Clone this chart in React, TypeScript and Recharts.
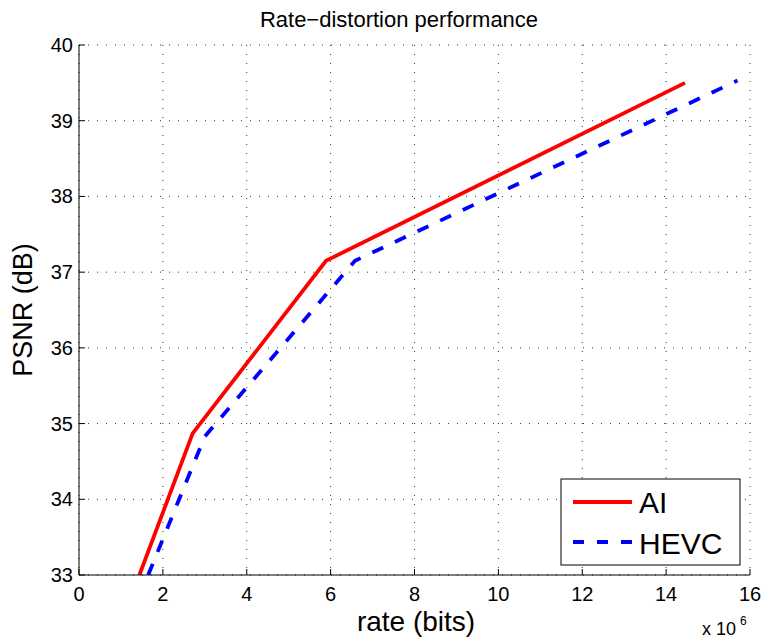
import React from 'react';
import { LineChart, Line, XAxis, YAxis, CartesianGrid } from 'recharts';

// Rate in units of 10^6 bits, PSNR in dB
const aiRate = [1.44, 2.71, 5.89, 14.45];
const aiPsnr = [33.0, 34.87, 37.15, 39.5];
const hevcRate = [1.65, 3.0, 6.58, 15.7];
const hevcPsnr = [33.0, 34.83, 37.15, 39.53];

const xTicks = [0, 2, 4, 6, 8, 10, 12, 14, 16];
const yTicks = [33, 34, 35, 36, 37, 38, 39, 40];

const aiData = aiRate.map((rate, i) => ({ rate, psnr: aiPsnr[i] }));
const hevcData = hevcRate.map((rate, i) => ({ rate, psnr: hevcPsnr[i] }));

const FONT = '"Liberation Sans", Arial, Helvetica, sans-serif';
const W = 766;
const H = 641;

const XTick = (props: any) => {
  const { x, y, payload } = props;
  return (
    <g>
      <line x1={x} y1={y} x2={x} y2={y - 6} stroke="#000" strokeWidth={1} />
      <text x={x} y={y + 26} textAnchor="middle" fontSize={20} fontFamily={FONT} fill="#000">
        {payload.value}
      </text>
    </g>
  );
};

const YTick = (props: any) => {
  const { x, y, payload } = props;
  return (
    <g>
      <line x1={x} y1={y} x2={x + 6} y2={y} stroke="#000" strokeWidth={1} />
      <text x={x - 6} y={y + 7} textAnchor="end" fontSize={20} fontFamily={FONT} fill="#000">
        {payload.value}
      </text>
    </g>
  );
};

export default function App() {
  return (
    <div style={{ position: 'absolute', left: 0, top: 0, width: W, height: H, background: '#fff' }}>
      <LineChart
        width={W}
        height={H}
        margin={{ top: 45, right: 16, left: 0, bottom: 0 }}
        style={{ background: '#fff' }}
      >
        <CartesianGrid stroke="#333" strokeWidth={1} strokeDasharray="1 8" />
        <XAxis
          type="number"
          dataKey="rate"
          domain={[0, 16]}
          ticks={xTicks}
          interval={0}
          allowDataOverflow
          height={66}
          tickSize={0}
          tickMargin={0}
          tickLine={false}
          axisLine={{ stroke: '#000', strokeWidth: 1 }}
          tick={<XTick />}
        />
        <YAxis
          type="number"
          dataKey="psnr"
          domain={[33, 40]}
          ticks={yTicks}
          interval={0}
          allowDataOverflow
          width={79}
          tickSize={0}
          tickMargin={0}
          tickLine={false}
          axisLine={{ stroke: '#000', strokeWidth: 1 }}
          tick={<YTick />}
        />
        <Line
          data={aiData}
          dataKey="psnr"
          name="AI"
          stroke="#ff0000"
          strokeWidth={3.8}
          dot={false}
          activeDot={false}
          isAnimationActive={false}
        />
        <Line
          data={hevcData}
          dataKey="psnr"
          name="HEVC"
          stroke="#0000ff"
          strokeWidth={3.8}
          strokeDasharray="12 13"
          dot={false}
          activeDot={false}
          isAnimationActive={false}
        />

        {/* title and axis labels */}
        <text x={399} y={27} textAnchor="middle" fontSize={22} fontFamily={FONT} fill="#000">
          Rate−distortion performance
        </text>
        <text x={416} y={631} textAnchor="middle" fontSize={28} fontFamily={FONT} fill="#000">
          rate (bits)
        </text>
        <text
          x={32}
          y={310}
          transform="rotate(-90 32 310)"
          textAnchor="middle"
          fontSize={27}
          fontFamily={FONT}
          fill="#000"
        >
          PSNR (dB)
        </text>
        <text x={702} y={635} fontSize={18} fontFamily={FONT} fill="#000">
          x 10
        </text>
        <text x={740} y={625} fontSize={12} fontFamily={FONT} fill="#000">
          6
        </text>

        {/* legend */}
        <g>
          <rect x={561} y={479} width={179} height={86} fill="#fff" stroke="#000" strokeWidth={1} />
          <line x1={573} y1={502} x2={632} y2={502} stroke="#ff0000" strokeWidth={3.8} />
          <text x={639} y={513} fontSize={30} fontFamily={FONT} fill="#000">
            AI
          </text>
          <line
            x1={573}
            y1={542}
            x2={632}
            y2={542}
            stroke="#0000ff"
            strokeWidth={3.8}
            strokeDasharray="11 13"
          />
          <text x={639} y={554} fontSize={30} fontFamily={FONT} fill="#000">
            HEVC
          </text>
        </g>
      </LineChart>
    </div>
  );
}
